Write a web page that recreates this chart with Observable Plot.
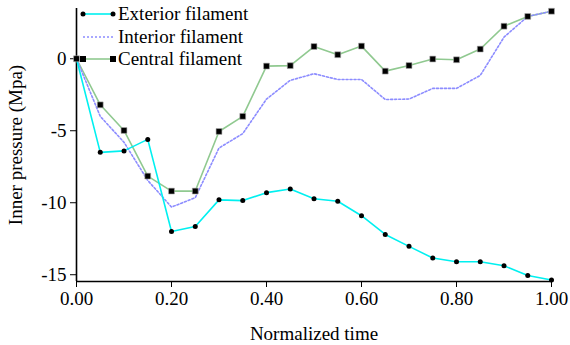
<!DOCTYPE html>
<html>
<head>
<meta charset="utf-8">
<script src="https://cdn.jsdelivr.net/npm/d3@7"></script>
<script src="https://cdn.jsdelivr.net/npm/@observablehq/plot@0.6"></script>
<style>
  html, body { margin: 0; padding: 0; background: #fff; }
  #wrap { position: relative; width: 570px; height: 345px; font-family: "Liberation Serif", "Times New Roman", serif; }
  #legend { position: absolute; left: 80px; top: 3px; font-size: 19px; line-height: 22.5px; color: #000; }
  #legend .row { display: flex; align-items: center; height: 22.5px; }
  #legend svg { display: block; margin-right: 2px; }
</style>
</head>
<body>
<div id="wrap"><div id="legend"></div></div>
<script>
const time = [0.00, 0.05, 0.10, 0.15, 0.20, 0.25, 0.30, 0.35, 0.40, 0.45, 0.50,
              0.55, 0.60, 0.65, 0.70, 0.75, 0.80, 0.85, 0.90, 0.95, 1.00];
const exterior = [0, -6.5, -6.4, -5.6, -12.0, -11.65, -9.8, -9.85, -9.3, -9.05, -9.72,
                  -9.9, -10.9, -12.2, -13.03, -13.84, -14.1, -14.1, -14.38, -15.05, -15.37];
const interior = [0, -4.0, -5.8, -8.45, -10.3, -9.65, -6.2, -5.2, -2.8, -1.5, -1.04,
                  -1.44, -1.44, -2.83, -2.8, -2.06, -2.06, -1.16, 1.5, 2.94, 3.3];
const central = [0, -3.2, -4.98, -8.15, -9.19, -9.19, -5.05, -4.0, -0.51, -0.48, 0.85,
                 0.28, 0.88, -0.86, -0.47, -0.02, -0.07, 0.67, 2.26, 2.94, 3.3];
const seriesNames = ["Exterior filament", "Interior filament", "Central filament"];
const seriesColors = ["#00f0f0", "#8c8cff", "#90c990"];
const xTicks = [0, 0.2, 0.4, 0.6, 0.8, 1.0];
const yTicks = [-15, -10, -5, 0];
const xLabel = "Normalized time";
const yLabel = "Inner pressure (Mpa)";

const yDomain = [-15.47, 3.49];
const mk = (vals) => time.map((t, i) => ({t, v: vals[i]}));
const ext = mk(exterior), inn = mk(interior), cen = mk(central);

const chart = Plot.plot({
  width: 570,
  height: 345,
  marginLeft: 76,
  marginRight: 19,
  marginTop: 8,
  marginBottom: 64,
  style: {fontFamily: '"Liberation Serif", "Times New Roman", serif', fontSize: "19px", color: "#000", background: "transparent"},
  x: {domain: [0, 1]},
  y: {domain: yDomain},
  marks: [
    Plot.axisX({ticks: xTicks, tickFormat: d3.format(".2f"), tickSize: 6, tickPadding: 4, fontSize: 19,
      label: xLabel, labelAnchor: "center", labelArrow: "none", labelOffset: 58}),
    Plot.axisY({ticks: yTicks, tickFormat: d => String(d), tickSize: 6, tickPadding: 4, fontSize: 19,
      label: yLabel, labelAnchor: "center", labelArrow: "none", labelOffset: 68}),
    Plot.ruleX([0], {stroke: "#000", strokeWidth: 1.6}),
    Plot.ruleY([yDomain[0]], {stroke: "#000", strokeWidth: 1.6}),
    Plot.line(cen, {x: "t", y: "v", stroke: seriesColors[2], strokeWidth: 1.6}),
    Plot.line(inn, {x: "t", y: "v", stroke: seriesColors[1], strokeWidth: 1.6, strokeDasharray: "2,2"}),
    Plot.line(ext, {x: "t", y: "v", stroke: seriesColors[0], strokeWidth: 1.6}),
    Plot.dot(cen, {x: "t", y: "v", symbol: "square", r: 3.3, fill: "#000", stroke: "#aaa", strokeWidth: 0.6}),
    Plot.dot(ext, {x: "t", y: "v", symbol: "circle", r: 2.5, fill: "#000"})
  ]
});
const wrap = document.getElementById("wrap");
wrap.insertBefore(chart, wrap.firstChild);

const legend = document.getElementById("legend");
const markers = ["circle", "none", "square"];
seriesNames.forEach((name, i) => {
  const row = document.createElement("div");
  row.className = "row";
  const w = 36, h = 12, y = h / 2;
  let m = "";
  if (markers[i] === "circle") m = `<circle cx="3" cy="${y}" r="2.5" fill="#000"/><circle cx="33" cy="${y}" r="2.5" fill="#000"/>`;
  if (markers[i] === "square") m = `<rect x="0" y="${y-3}" width="6" height="6" fill="#000"/><rect x="30" y="${y-3}" width="6" height="6" fill="#000"/>`;
  const dash = markers[i] === "none" ? 'stroke-dasharray="2,2"' : "";
  row.innerHTML = `<svg width="${w}" height="${h}"><line x1="3" x2="33" y1="${y}" y2="${y}" stroke="${seriesColors[i]}" stroke-width="1.6" ${dash}/>${m}</svg><span>${name}</span>`;
  legend.appendChild(row);
});
wrap.firstChild.style.position = "absolute";
wrap.firstChild.style.left = "0";
wrap.firstChild.style.top = "0";
</script>
</body>
</html>
